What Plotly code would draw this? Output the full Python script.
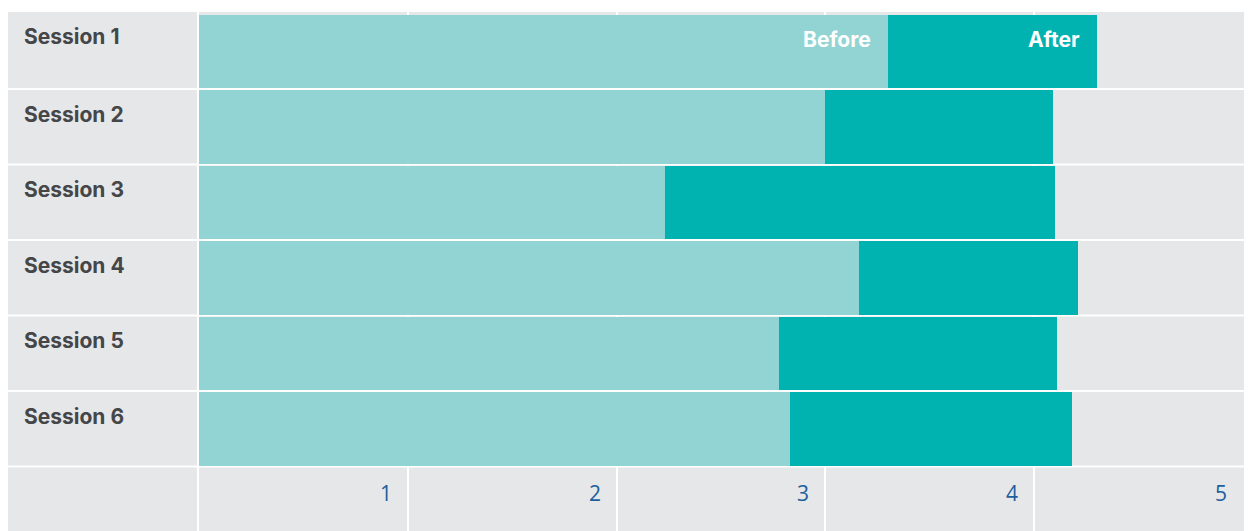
import plotly.graph_objects as go

# Scores per session, before and after
sessions = ["Session 1", "Session 2", "Session 3", "Session 4", "Session 5", "Session 6"]
before = [3.30, 3.00, 2.23, 3.16, 2.78, 2.83]
after = [4.30, 4.09, 4.10, 4.21, 4.11, 4.18]
tick_values = [1, 2, 3, 4, 5]

W, H = 1248, 531
ROW_PX = 75.5          # row pitch in pixels
GAP_PX = 2             # white separator between rows
FIRST_ROW_TOP_PX = 90  # top of the second row


def px_to_y(px):
    return (px - FIRST_ROW_TOP_PX) / ROW_PX + 1 - 0.5


GRAY = "#e6e7e9"
LIGHT = "#92d4d3"
DARK = "#00b2b0"
LABEL = "#454647"
TICK = "#1d5f9c"
FONT = "Inter"

n = len(sessions)
ypos = list(range(n))
gap = GAP_PX / ROW_PX

# bar extents in y (first row has a small strip above the bar)
offsets = []
widths = []
for i in ypos:
    top = px_to_y(15) if i == 0 else i - 0.5
    bottom = i + 0.5 - gap
    offsets.append(top - i)
    widths.append(bottom - top)

after_len = [a - b for a, b in zip(after, before)]

fig = go.Figure()
fig.add_trace(go.Bar(
    y=ypos, x=before, base=0, orientation="h",
    marker=dict(color=LIGHT, line=dict(width=0)),
    width=widths, offset=offsets, name="Before", hoverinfo="skip",
))
fig.add_trace(go.Bar(
    y=ypos, x=after_len, base=before, orientation="h",
    marker=dict(color=DARK, line=dict(width=0)),
    width=widths, offset=offsets, name="After", hoverinfo="skip",
))

label_x0, label_x1 = 8 / W, 197 / W
plot_x0, plot_x1 = 199 / W, 1244 / W

shapes = []


def gray_row(y0, y1):
    for x0, x1 in [(label_x0, label_x1), (plot_x0, plot_x1)]:
        shapes.append(dict(type="rect", xref="paper", yref="y", x0=x0, x1=x1,
                           y0=y0, y1=y1, fillcolor=GRAY,
                           line=dict(width=0), layer="below"))


for i in ypos:
    top = px_to_y(12) if i == 0 else i - 0.5
    gray_row(top, i + 0.5 - gap)
# axis row at the bottom
gray_row(n - 0.5, px_to_y(H + 5))

annotations = []
for i, s in enumerate(sessions):
    top = px_to_y(12) if i == 0 else i - 0.5
    annotations.append(dict(
        x=22 / W, xref="paper", xanchor="left", y=top, yref="y", yanchor="middle",
        yshift=-24, text=s, showarrow=False,
        font=dict(family=FONT, size=21, color=LABEL, weight=700),
    ))

# series labels inside the first row
for val, txt in [(before[0], "Before"), (after[0], "After")]:
    annotations.append(dict(
        x=val, xref="x", xanchor="right", xshift=-15,
        y=px_to_y(12), yref="y", yanchor="middle", yshift=-27,
        text=txt, showarrow=False,
        font=dict(family=FONT, size=21, color="white", weight=700),
    ))

# axis numbers, set just left of each gridline
for t in tick_values:
    annotations.append(dict(
        x=t, xref="x", xanchor="right", xshift=-14,
        y=px_to_y(493), yref="y", yanchor="middle",
        text=str(t), showarrow=False,
        font=dict(family="Open Sans", size=21, color=TICK),
    ))

fig.update_layout(
    width=W, height=H,
    margin=dict(l=0, r=0, t=0, b=0),
    paper_bgcolor="white", plot_bgcolor="white",
    barmode="overlay", showlegend=False, bargap=0,
    shapes=shapes, annotations=annotations,
    xaxis=dict(domain=[plot_x0, 1243 / W], range=[0, 5],
               tickvals=[1, 2, 3, 4], showticklabels=False,
               showgrid=True, gridcolor="white", gridwidth=2,
               zeroline=False, showline=False, ticks="", fixedrange=True),
    yaxis=dict(range=[px_to_y(H), px_to_y(0)], showgrid=False, zeroline=False,
               showticklabels=False, showline=False, ticks="", fixedrange=True),
)

fig.write_html("out.html")
